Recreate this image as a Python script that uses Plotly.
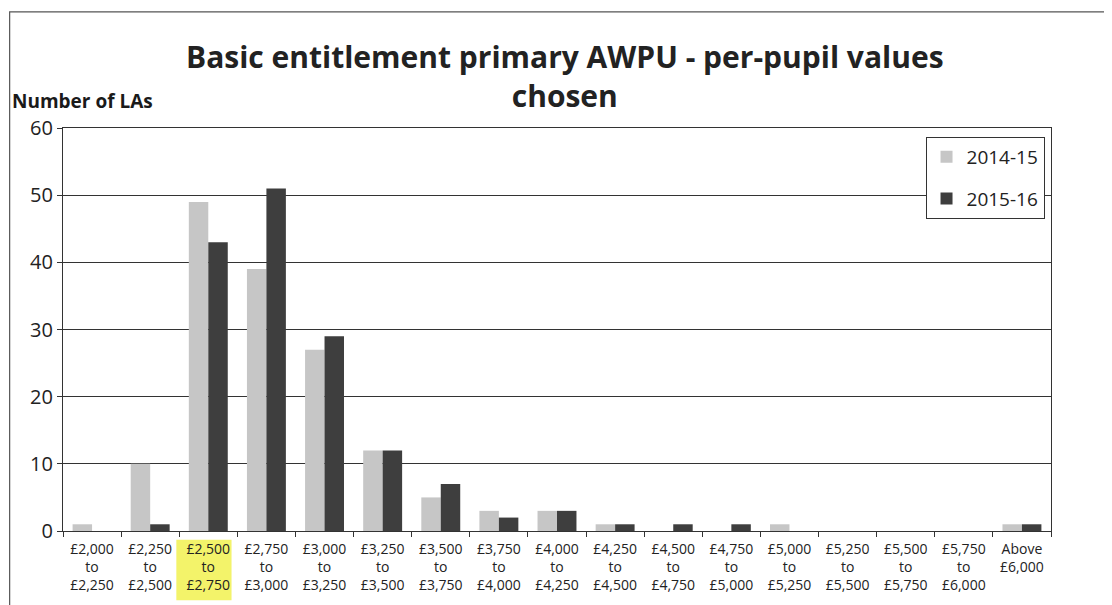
import plotly.graph_objects as go

# faixas de valor por aluno (categorias do eixo x)
faixas = [
    "£2,000<br>to<br>£2,250", "£2,250<br>to<br>£2,500", "£2,500<br>to<br>£2,750",
    "£2,750<br>to<br>£3,000", "£3,000<br>to<br>£3,250", "£3,250<br>to<br>£3,500",
    "£3,500<br>to<br>£3,750", "£3,750<br>to<br>£4,000", "£4,000<br>to<br>£4,250",
    "£4,250<br>to<br>£4,500", "£4,500<br>to<br>£4,750", "£4,750<br>to<br>£5,000",
    "£5,000<br>to<br>£5,250", "£5,250<br>to<br>£5,500", "£5,500<br>to<br>£5,750",
    "£5,750<br>to<br>£6,000", "Above<br>£6,000",
]
las_2014_15 = [1, 10, 49, 39, 27, 12, 5, 3, 3, 1, 0, 0, 1, 0, 0, 0, 1]
las_2015_16 = [0, 1, 43, 51, 29, 12, 7, 2, 3, 1, 1, 1, 0, 0, 0, 0, 1]
faixa_destaque = 2  # "£2,500 to £2,750" marcada em amarelo

fonte = "Open Sans"

fig = go.Figure()
fig.add_trace(go.Bar(
    x=faixas, y=las_2014_15, name="2014-15", legendgroup="a",
    marker=dict(color="#c6c6c6", line=dict(width=0)),
))
fig.add_trace(go.Bar(
    x=faixas, y=las_2015_16, name="2015-16", legendgroup="b",
    marker=dict(color="#3e3e3e", line=dict(width=0)),
))

# destaque amarelo atrás do rótulo da faixa
fig.add_shape(
    type="rect", xref="x", yref="paper",
    x0=faixa_destaque - 0.55, x1=faixa_destaque + 0.4, y0=-0.172, y1=-0.022,
    fillcolor="#f3f36a", line=dict(width=0), layer="below",
)
# moldura externa do gráfico
fig.add_shape(
    type="rect", xref="paper", yref="paper",
    x0=-0.054, x1=1.056, y0=-0.25, y1=1.288,
    line=dict(color="#555555", width=1.2), fillcolor="rgba(0,0,0,0)",
)

fig.add_annotation(
    text="<b>Basic entitlement primary AWPU - per-pupil values<br>chosen</b>",
    xref="paper", yref="paper", x=0.508, y=1.13, xanchor="center", yanchor="middle",
    showarrow=False, font=dict(family=fonte, size=30, color="#222222"),
)
fig.add_annotation(
    text="<b>Number of LAs</b>", xref="paper", yref="paper",
    x=-0.054, y=1.066, xanchor="left", yanchor="middle", showarrow=False,
    font=dict(family=fonte, size=19, color="#1a1a1a"),
)

# a página tem 8px de margem no body: o tamanho compensa isso
fig.update_layout(
    width=1104, height=597,
    margin=dict(l=55, r=61, t=120, b=74),
    paper_bgcolor="white", plot_bgcolor="white",
    barmode="group", bargap=0.33, bargroupgap=0.0,
    showlegend=True,
    legend=dict(
        x=0.873, y=0.978, xanchor="left", yanchor="top",
        bgcolor="white", bordercolor="#333333", borderwidth=1,
        font=dict(family=fonte, size=19, color="#222222"),
        tracegroupgap=14,
    ),
    font=dict(family=fonte, color="#222222"),
)

fig.update_xaxes(
    type="category", tickson="boundaries", automargin=False,
    ticks="outside", ticklen=5, tickcolor="#333333",
    showline=True, linecolor="#333333", linewidth=1.2, mirror=True,
    showgrid=False, ticklabelstandoff=5,
    tickfont=dict(family=fonte, size=14, color="#222222"),
    tickangle=0,
)
fig.update_yaxes(
    range=[0, 60], dtick=10, automargin=False,
    ticks="outside", ticklen=5, tickcolor="#333333",
    showline=True, linecolor="#333333", linewidth=1.2, mirror=True,
    showgrid=True, gridcolor="#333333", gridwidth=1,
    zeroline=False,
    tickfont=dict(family=fonte, size=20, color="#222222"),
)

fig.write_html("out.html")
